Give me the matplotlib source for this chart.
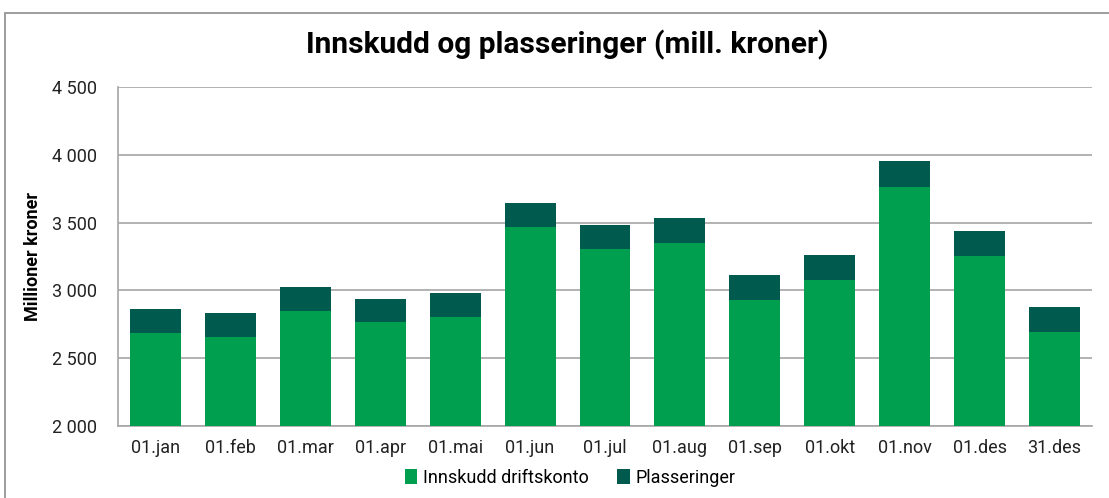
import matplotlib
matplotlib.use("Agg")
import matplotlib.pyplot as plt
from matplotlib.patches import Rectangle
from matplotlib.ticker import FuncFormatter

# Data
dates = ['01.jan', '01.feb', '01.mar', '01.apr', '01.mai', '01.jun', '01.jul',
         '01.aug', '01.sep', '01.okt', '01.nov', '01.des', '31.des']
innskudd = [2686, 2659, 2851, 2770, 2804, 3469, 3306, 3353, 2930, 3075, 3766, 3250, 2696]
plasseringer = [177, 175, 173, 170, 175, 174, 177, 182, 187, 185, 190, 187, 184]

green = '#009E4F'
dark = '#005A4E'
grid_col = '#A6A6A6'

plt.rcParams['font.family'] = ['Roboto', 'DejaVu Sans']

fig = plt.figure(figsize=(11.09, 4.98), dpi=100)
ax = fig.add_axes([118 / 1109, 1 - 426 / 498, (1092 - 118) / 1109, (426 - 87) / 498])

# thin frame around the chart area, like the source
fig.patches.append(Rectangle((5 / 1109, -0.1), 1.2, 1 - 13 / 498 + 0.1,
                             transform=fig.transFigure, fill=False,
                             edgecolor='#8C8C8C', linewidth=1.2))

x = range(len(dates))
ax.bar(x, innskudd, width=0.68, color=green, label='Innskudd driftskonto', zorder=3)
ax.bar(x, plasseringer, width=0.68, bottom=innskudd, color=dark, label='Plasseringer', zorder=3)

ax.set_ylim(2000, 4500)
ax.set_xlim(-0.5, len(dates) - 0.5)
ax.set_yticks(range(2000, 4501, 500))
ax.yaxis.set_major_formatter(FuncFormatter(lambda v, p: f"{int(v):,}".replace(',', ' ')))
ax.set_xticks(list(x))
ax.set_xticklabels(dates)
ax.tick_params(axis='both', length=0, labelsize=13, colors='#222222')
ax.tick_params(axis='y', pad=15)
ax.tick_params(axis='x', pad=9)

ax.grid(axis='y', color=grid_col, linewidth=1.2, zorder=0)
for s in ['top', 'right']:
    ax.spines[s].set_visible(False)
ax.spines['left'].set_color(grid_col)
ax.spines['bottom'].set_color(grid_col)
ax.spines['left'].set_linewidth(1.2)
ax.spines['bottom'].set_linewidth(1.2)

ax.set_ylabel('Millioner kroner', fontsize=13, fontweight='bold', labelpad=7)

fig.text(567 / 1109, 1 - 45 / 498, 'Innskudd og plasseringer (mill. kroner)',
         ha='center', va='center', fontsize=21.5, fontweight='bold')

fig.legend(loc='center', bbox_to_anchor=(570 / 1109, 1 - 478 / 498), ncol=2, frameon=False,
           fontsize=13, handlelength=0.7, handleheight=0.9, handletextpad=0.3,
           columnspacing=1.6)

fig.savefig('out.png', dpi=100)
